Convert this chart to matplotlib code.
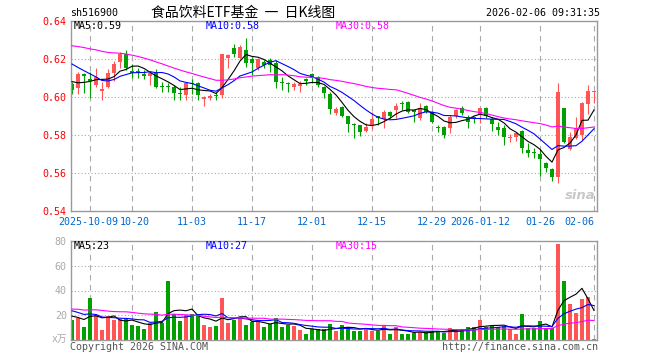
import numpy as np
import matplotlib
matplotlib.use('Agg')
import matplotlib.pyplot as plt
from matplotlib.transforms import ScaledTranslation

# sh516900 daily candles, 2025-09-26 .. 2026-02-06 (88 sessions)
opens = [
    0.6067, 0.6046, 0.6119, 0.6095, 0.6063, 0.6033, 0.6054, 0.6125, 0.6186, 0.6225,
    0.6137, 0.6137, 0.6119, 0.6112, 0.6125, 0.6056, 0.6054, 0.6054, 0.6021, 0.6011,
    0.6075, 0.6075, 0.5989, 0.5996, 0.6007, 0.6011, 0.6203, 0.6260, 0.6207, 0.6247,
    0.6198, 0.6151, 0.6186, 0.6195, 0.6177, 0.6077, 0.6075, 0.6054, 0.6060, 0.6095,
    0.6119, 0.6105, 0.6053, 0.6018, 0.5914, 0.5946, 0.5900, 0.5854, 0.5854, 0.5821,
    0.5853, 0.5900, 0.5884, 0.5923, 0.5932, 0.5967, 0.5975, 0.5930, 0.5888, 0.5954,
    0.5923, 0.5837, 0.5844, 0.5835, 0.5902, 0.5940, 0.5897, 0.5897, 0.5909, 0.5944,
    0.5884, 0.5842, 0.5835, 0.5782, 0.5791, 0.5823, 0.5721, 0.5707, 0.5700, 0.5651,
    0.5623, 0.5581, 0.5944, 0.5725, 0.5782, 0.5800, 0.5961, 0.6028]
highs = [
    0.6081, 0.6133, 0.6125, 0.6133, 0.6151, 0.6081, 0.6146, 0.6189, 0.6235, 0.6247,
    0.6172, 0.6154, 0.6142, 0.6137, 0.6147, 0.6077, 0.6072, 0.6063, 0.6054, 0.6081,
    0.6095, 0.6081, 0.6007, 0.6014, 0.6025, 0.6228, 0.6228, 0.6281, 0.6274, 0.6309,
    0.6212, 0.6203, 0.6195, 0.6207, 0.6195, 0.6107, 0.6081, 0.6081, 0.6084, 0.6098,
    0.6125, 0.6111, 0.6060, 0.6028, 0.5949, 0.5954, 0.5900, 0.5861, 0.5854, 0.5861,
    0.5923, 0.5900, 0.5932, 0.5926, 0.5967, 0.5979, 0.5979, 0.5933, 0.5967, 0.5958,
    0.5926, 0.5853, 0.5849, 0.5905, 0.5937, 0.5954, 0.5905, 0.5902, 0.5944, 0.5949,
    0.5897, 0.5870, 0.5853, 0.5804, 0.5812, 0.5826, 0.5756, 0.5730, 0.5725, 0.5660,
    0.5628, 0.6075, 0.5944, 0.5818, 0.5896, 0.5975, 0.6063, 0.6033]
lows = [
    0.6014, 0.6014, 0.6023, 0.5993, 0.6054, 0.5984, 0.6046, 0.6084, 0.6154, 0.6142,
    0.6102, 0.6098, 0.6095, 0.6063, 0.6046, 0.6028, 0.6025, 0.5982, 0.5982, 0.5982,
    0.6014, 0.5982, 0.5954, 0.5984, 0.5982, 0.5993, 0.6154, 0.6212, 0.6200, 0.6160,
    0.6116, 0.6142, 0.6151, 0.6133, 0.6049, 0.6037, 0.6025, 0.6037, 0.6028, 0.6063,
    0.6072, 0.6054, 0.5993, 0.5909, 0.5905, 0.5897, 0.5818, 0.5786, 0.5797, 0.5814,
    0.5832, 0.5853, 0.5839, 0.5888, 0.5888, 0.5932, 0.5914, 0.5870, 0.5879, 0.5914,
    0.5861, 0.5818, 0.5786, 0.5809, 0.5888, 0.5905, 0.5835, 0.5861, 0.5861, 0.5888,
    0.5821, 0.5800, 0.5747, 0.5761, 0.5770, 0.5704, 0.5686, 0.5677, 0.5586, 0.5607,
    0.5558, 0.5546, 0.5756, 0.5721, 0.5779, 0.5774, 0.5909, 0.5967]
closes = [
    0.6035, 0.6119, 0.6111, 0.6084, 0.6107, 0.6042, 0.6128, 0.6175, 0.6228, 0.6151,
    0.6128, 0.6133, 0.6112, 0.6128, 0.6054, 0.6053, 0.6051, 0.6019, 0.6018, 0.6072,
    0.6070, 0.6011, 0.6000, 0.6007, 0.6004, 0.6228, 0.6221, 0.6228, 0.6265, 0.6177,
    0.6177, 0.6200, 0.6168, 0.6168, 0.6077, 0.6075, 0.6067, 0.6067, 0.6067, 0.6084,
    0.6098, 0.6063, 0.6019, 0.5937, 0.5937, 0.5902, 0.5856, 0.5851, 0.5814, 0.5844,
    0.5884, 0.5888, 0.5923, 0.5902, 0.5954, 0.5963, 0.5919, 0.5919, 0.5944, 0.5923,
    0.5867, 0.5835, 0.5800, 0.5897, 0.5933, 0.5914, 0.5867, 0.5888, 0.5944, 0.5902,
    0.5856, 0.5825, 0.5791, 0.5791, 0.5812, 0.5733, 0.5704, 0.5704, 0.5672, 0.5625,
    0.5581, 0.6028, 0.5765, 0.5791, 0.5835, 0.5967, 0.6033, 0.6033]
# volume, 万手
volumes = [
    16.1, 17.5, 10.2, 33.8, 20.1, 8.1, 19.3, 16.1, 16.6, 16.6,
    12.1, 11.3, 8.9, 13.4, 22.8, 14.0, 47.5, 20.9, 15.6, 20.1,
    20.9, 20.9, 12.1, 10.7, 11.5, 33.8, 14.0, 16.1, 18.3, 12.1,
    14.2, 14.8, 10.7, 12.9, 17.5, 10.7, 12.1, 11.5, 8.1, 4.8,
    8.6, 8.6, 8.6, 12.9, 7.5, 12.1, 10.2, 7.5, 7.5, 9.4,
    7.5, 7.5, 11.8, 4.6, 10.7, 4.6, 4.6, 5.9, 6.7, 6.7,
    7.5, 7.5, 5.9, 9.4, 8.9, 8.6, 10.2, 10.2, 16.1, 10.7,
    11.3, 10.7, 11.3, 8.6, 4.8, 20.9, 9.4, 9.4, 15.3, 9.4,
    9.4, 77.3, 47.5, 29.0, 22.0, 33.0, 34.6, 0.6]

# sessions before the window (not drawn), guessed from where the MA lines start
prior_close = [
    0.624, 0.627, 0.629, 0.626, 0.628, 0.630, 0.625, 0.627, 0.628,
    0.631, 0.634, 0.637, 0.640, 0.638, 0.636, 0.639, 0.635, 0.633, 0.636, 0.632,
    0.630, 0.628, 0.625, 0.627, 0.623,
    0.615, 0.610, 0.606, 0.606]
prior_vol = [
    22, 31, 27, 19, 24, 35, 28, 21, 18, 26, 30, 24, 22, 29, 33, 25, 20, 23, 27, 30,
    31, 26, 29.5, 25, 28,
    23, 18.4, 21, 18]

tick_idx = [3, 10, 20, 30, 40, 50, 60, 68, 78, 87]
tick_labels = ['2025-10-09', '10-20', '11-03', '11-17', '12-01', '12-15',
               '12-29', '2026-01-12', '01-26', '02-06']
price_ticks = [0.54, 0.56, 0.58, 0.60, 0.62, 0.64]
vol_ticks = [20, 40, 60, 80]

RED = '#ff5555'
GREEN = '#00a000'
GRID = '#aaaaaa'
MONO = 'DejaVu Sans Mono'
CJK = ['Noto Sans CJK SC', 'DejaVu Sans']
FS = 7.2

plt.rcParams['font.family'] = [MONO, 'Noto Sans CJK SC']

W, H = 660, 360


def rect(x0, y0, x1, y1):
    return [x0 / W, 1 - y1 / H, (x1 - x0) / W, (y1 - y0) / H]


def moving_average(values, prior, n):
    full = np.concatenate([prior, values])
    ma = np.convolve(full, np.ones(n) / n, mode='valid')
    return ma[-len(values):]


o = np.array(opens)
h = np.array(highs)
l = np.array(lows)
c = np.array(closes)
v = np.array(volumes)
x = np.arange(len(c))
colors = np.where(c >= o, RED, GREEN)

fig = plt.figure(figsize=(6.6, 3.6), dpi=100)
ax = fig.add_axes(rect(71, 21, 597, 211))
axv = fig.add_axes(rect(71, 241, 597, 340))

for a in (ax, axv):
    a.set_xlim(-0.17, 87.5)
    for s in a.spines.values():
        s.set_color('#999999')
        s.set_linewidth(1.0)
    for t in tick_idx:
        a.axvline(t, color=GRID, lw=0.8, ls=(0, (5, 4)), zorder=0)
    a.tick_params(length=0)

# price panel
for p in price_ticks[1:-1]:
    ax.axhline(p, color=GRID, lw=0.8, ls=(0, (1, 2)), zorder=0)
ax.vlines(x, l, h, colors=colors, lw=0.8, zorder=2)
body_lo = np.minimum(o, c)
body_h = np.maximum(np.abs(c - o), 0.0005)
ax.bar(x, body_h, 0.78, bottom=body_lo, color=colors, lw=0, zorder=2)
ax.plot(x, moving_average(c, prior_close, 5), color='black', lw=0.8, zorder=3)
ax.plot(x, moving_average(c, prior_close, 10), color='#0000ff', lw=0.8, zorder=3)
ax.plot(x, moving_average(c, prior_close, 30), color='#ff00ff', lw=0.8, zorder=3)
ax.set_ylim(0.54, 0.64)
ax.set_yticks(price_ticks)
ax.set_yticklabels(['%.2f' % p for p in price_ticks], color='#ff0000', fontsize=FS)
ax.set_xticks(tick_idx)
ax.set_xticklabels(tick_labels, color='#0066cc', fontsize=FS)
ax.tick_params(axis='y', pad=3)
ax.tick_params(axis='x', pad=4.5)
xl = ax.get_xticklabels()
xl[-1].set_ha('right')
# the first two labels sit almost on top of each other; nudge them apart
xl[0].set_transform(xl[0].get_transform() + ScaledTranslation(-2 / 100, 0, fig.dpi_scale_trans))
xl[1].set_transform(xl[1].get_transform() + ScaledTranslation(2.5 / 100, 0, fig.dpi_scale_trans))
ax.text(0.998, 0.045, 'sina', transform=ax.transAxes, ha='right', va='bottom',
        color='#c8c8c8', fontsize=9.5, style='italic', weight='bold', family='DejaVu Sans')

# volume panel
for q in vol_ticks[:-1]:
    axv.axhline(q, color=GRID, lw=0.8, ls=(0, (1, 2)), zorder=0)
axv.bar(x, v, 0.78, color=colors, lw=0, zorder=2)
axv.plot(x, moving_average(v, prior_vol, 5), color='black', lw=0.8, zorder=3)
axv.plot(x, moving_average(v, prior_vol, 10), color='#0000ff', lw=0.8, zorder=3)
axv.plot(x, moving_average(v, prior_vol, 30), color='#ff00ff', lw=0.8, zorder=3)
axv.set_ylim(0, 80)
axv.set_yticks(vol_ticks)
axv.set_yticklabels([str(q) for q in vol_ticks], color='#aaaaaa', fontsize=FS)
axv.tick_params(axis='y', pad=3)
axv.set_xticks([])

# texts
fig.text(70 / W, 1 - 13 / H, 'sh516900', fontsize=FS, va='center')
fig.text(151 / W, 1 - 13 / H, '食品饮料ETF基金  一  日K线图', family=CJK, fontsize=10, va='center')
fig.text(600 / W, 1 - 13 / H, '2026-02-06 09:31:35', fontsize=FS, va='center', ha='right')

ma_x = [74, 206, 336]
ma_colors = ['black', '#0000ff', '#ff00ff']
for xx, col, txt in zip(ma_x, ma_colors, ['MA5:0.59', 'MA10:0.58', 'MA30:0.58']):
    fig.text(xx / W, 1 - 26 / H, txt, color=col, fontsize=FS, va='center')
for xx, col, txt in zip(ma_x, ma_colors, ['MA5:23', 'MA10:27', 'MA30:15']):
    fig.text(xx / W, 1 - 246 / H, txt, color=col, fontsize=FS, va='center')

fig.text(67 / W, 1 - 339 / H, 'x万', color='#aaaaaa', fontsize=7, ha='right', va='center')
fig.text(70 / W, 1 - 347 / H, 'Copyright 2026 SINA.COM', color='#555555', fontsize=FS, va='center')
fig.text(598 / W, 1 - 347 / H, 'http://finance.sina.com.cn', color='#555555', fontsize=FS,
         va='center', ha='right')

fig.savefig('out.png', dpi=100)
